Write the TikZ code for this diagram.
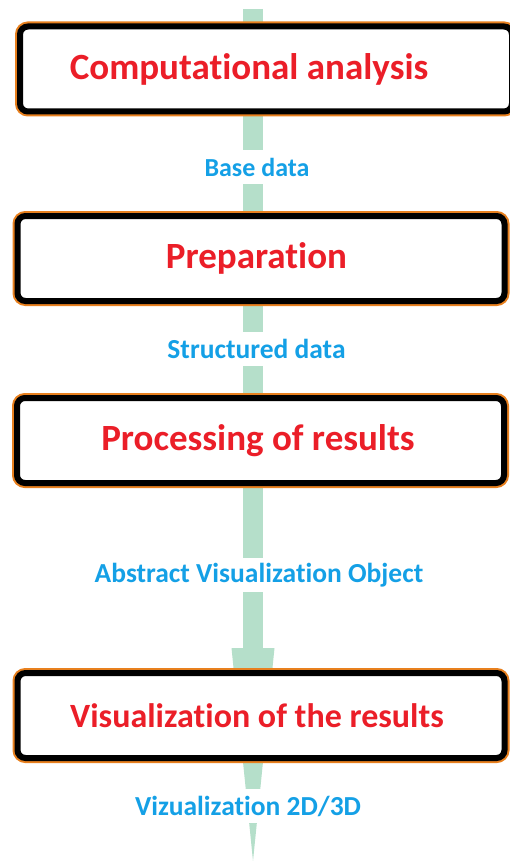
\documentclass[tikz,border=0pt]{standalone}
\usepackage{fontspec}
\setmainfont{Carlito}[Ligatures={NoCommon,NoContextual}]
\usetikzlibrary{calc}
\definecolor{flowgreen}{RGB}{181,223,202}
\definecolor{boxorange}{RGB}{232,128,30}
\definecolor{titlered}{RGB}{235,30,40}
\definecolor{datablue}{RGB}{20,160,230}

\begin{document}
\begin{tikzpicture}[
    x=1pt, y=-1pt,
    box/.style={rectangle, rounded corners=8pt, draw=black, line width=6pt, fill=white,
        preaction={draw=boxorange, line width=10pt},
        minimum width=487pt, minimum height=85pt,
        text=titlered, font=\bfseries\fontsize{37}{44}\selectfont},
    data/.style={rectangle, fill=white, text=datablue, inner xsep=4pt, minimum height=34pt,
        font=\bfseries\fontsize{27.5}{32}\selectfont},
    flow/.style={draw=flowgreen, line width=20pt}
]
    \useasboundingbox (0,0) rectangle (510,861);
    % the long arrow behind the boxes
    \coordinate (top) at (253,9);
    \coordinate (neck) at (253,648);
    \coordinate (tip) at (253,861);
    \draw[flow] (top) -- (neck);
    \fill[flowgreen] ([xshift=-21.5pt]neck) -- (tip) -- ([xshift=21.5pt]neck) -- cycle;

    \node[box, minimum width=492pt] (analysis) at (266,69) {\hspace*{-34pt}Computational analysis};
    \node[data, font=\bfseries\fontsize{26}{30}\selectfont] (base) at (257,167) {Base data};
    \node[box] (prep) at (261,258.5) {\hspace*{-9pt}Preparation};
    \node[data] (structured) at (256.5,349) {Structured data};
    \node[box] (processing) at (260.5,440.5) {\hspace*{-5pt}Processing of results};
    \node[data] (avo) at (259,575) {Abstract Visualization Object};
    \node[box, font=\bfseries\fontsize{34}{40}\selectfont] (visual) at (261,715.5) {\hspace*{-8pt}Visualization of the results};
    \node[data] (viz) at (248,806) {Vizualization 2D/3D};
\end{tikzpicture}
\end{document}
